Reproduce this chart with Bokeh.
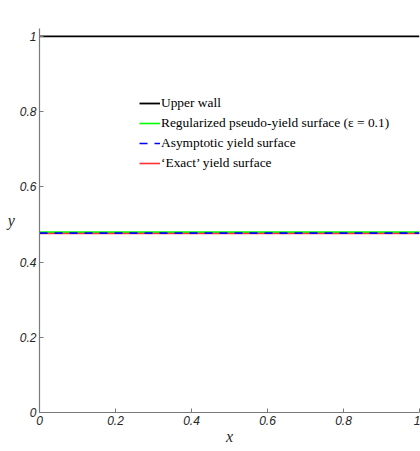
from bokeh.plotting import figure
from bokeh.models import Range1d, Legend, LegendItem, FixedTicker
from bokeh.embed import file_html
from bokeh.resources import INLINE

# data
x_vals = [0.0, 1.0]
upper_wall = [1.0, 1.0]
regularized = [0.4795, 0.4795]
asymptotic = [0.4768, 0.4768]
exact = [0.4760, 0.4760]
x_ticks = [0, 0.2, 0.4, 0.6, 0.8, 1]
y_ticks = [0, 0.2, 0.4, 0.6, 0.8, 1]

p = figure(width=420, height=451, output_backend="svg", toolbar_location=None,
           x_range=Range1d(0, 1.0), y_range=Range1d(0, 1.021),
           min_border_left=39, min_border_right=1, min_border_top=28, min_border_bottom=39)
p.outline_line_color = None
p.grid.visible = False

r_wall = p.line(x_vals, upper_wall, line_color="black", line_width=1.8)
r_reg = p.line(x_vals, regularized, line_color="#00ff00", line_width=1.6)
r_ex = p.line(x_vals, exact, line_color="#ff3030", line_width=1.6)
r_asy = p.line(x_vals, asymptotic, line_color="#0000ff", line_width=1.6, line_dash="8 7")

for ax in (p.xaxis, p.yaxis):
    ax.axis_line_color = "#7a7a7a"
    ax.axis_line_width = 1.2
    ax.major_tick_line_color = "#7a7a7a"
    ax.major_tick_in = 4
    ax.major_tick_out = 0
    ax.minor_tick_line_color = None
    ax.major_label_text_font = "'Liberation Sans', Arial, sans-serif"
    ax.major_label_text_font_style = "italic"
    ax.major_label_text_font_size = "12px"
    ax.major_label_text_color = "#262626"
    ax.axis_label_text_font = "'Liberation Serif', 'Times New Roman', serif"
    ax.axis_label_text_font_style = "italic"
    ax.axis_label_text_font_size = "16px"
    ax.axis_label_text_color = "#262626"

p.xaxis.ticker = FixedTicker(ticks=x_ticks)
p.yaxis.ticker = FixedTicker(ticks=y_ticks)
p.xaxis.major_label_overrides = {0: "0", 1: "1"}
p.yaxis.major_label_overrides = {0: "0", 1: "1"}
p.xaxis.major_label_standoff = 3
p.yaxis.major_label_standoff = 3
p.xaxis.axis_label = "x"
p.xaxis.axis_label_standoff = 0
p.yaxis.axis_label = "y"
p.yaxis.axis_label_orientation = "horizontal"
p.yaxis.axis_label_standoff = 2

legend = Legend(items=[
    LegendItem(label="Upper wall", renderers=[r_wall]),
    LegendItem(label="Regularized pseudo-yield surface (ε = 0.1)", renderers=[r_reg]),
    LegendItem(label="Asymptotic yield surface", renderers=[r_asy]),
    LegendItem(label="‘Exact’ yield surface", renderers=[r_ex]),
], location=(100, 239))
legend.border_line_alpha = 0
legend.background_fill_alpha = 0
legend.padding = 0
legend.margin = 0
legend.spacing = 0
legend.glyph_width = 21
legend.glyph_height = 20
legend.label_height = 20
legend.label_standoff = 1
legend.label_text_font = "'Liberation Serif', 'Times New Roman', serif"
legend.label_text_font_size = "13.4px"
legend.label_text_color = "black"
p.add_layout(legend, "center")

open("out.html", "w").write(file_html(p, INLINE))
